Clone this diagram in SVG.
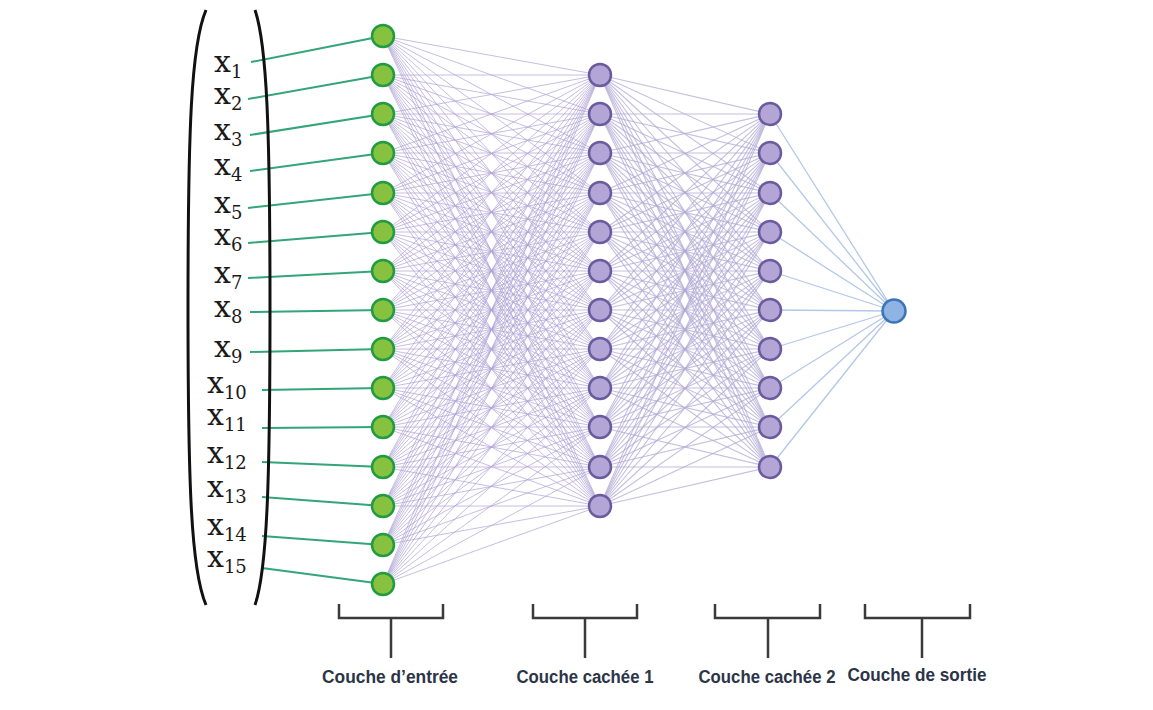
<svg xmlns="http://www.w3.org/2000/svg" width="1153" height="710" viewBox="0 0 1153 710">
<style>
.e1{fill:none;stroke:#aea3d6;stroke-width:1;stroke-opacity:0.7}
.e2{fill:none;stroke:#b2aad4;stroke-width:1.1;stroke-opacity:0.75}
.e3{fill:none;stroke:#b3c8e8;stroke-width:1.3}
.lab{fill:none;stroke:#33a57a;stroke-width:2}
.in{fill:#86c240;stroke:#1f9c3f;stroke-width:2.5}
.hid{fill:#b3a6d6;stroke:#6a5a9e;stroke-width:2.5}
.out{fill:#8fb3e2;stroke:#3d74b8;stroke-width:2.5}
.par{fill:none;stroke:#111;stroke-width:3}
.br{fill:none;stroke:#3a3a3a;stroke-width:2.5}
.x{font-family:"DejaVu Serif","Liberation Serif",serif;font-size:30px;fill:#1a1a1a}
.s{font-size:18px}
.cap{font-family:"Liberation Sans",Arial,sans-serif;font-weight:bold;font-size:18px;fill:#2c3447;text-anchor:middle}
</style>
<rect width="1153" height="710" fill="#ffffff"/>
<g id="connectors">
<g id="input-hidden1">
<path class="e1" d="M600 75L383 36M600 75L383 75M600 75L383 114M600 75L383 153M600 75L383 193M600 75L383 232M600 75L383 271M600 75L383 310M600 75L383 349M600 75L383 388M600 75L383 427M600 75L383 467M600 75L383 506M600 75L383 545M600 75L383 584"/>
<path class="e1" d="M600 114L383 36M600 114L383 75M600 114L383 114M600 114L383 153M600 114L383 193M600 114L383 232M600 114L383 271M600 114L383 310M600 114L383 349M600 114L383 388M600 114L383 427M600 114L383 467M600 114L383 506M600 114L383 545M600 114L383 584"/>
<path class="e1" d="M600 153L383 36M600 153L383 75M600 153L383 114M600 153L383 153M600 153L383 193M600 153L383 232M600 153L383 271M600 153L383 310M600 153L383 349M600 153L383 388M600 153L383 427M600 153L383 467M600 153L383 506M600 153L383 545M600 153L383 584"/>
<path class="e1" d="M600 193L383 36M600 193L383 75M600 193L383 114M600 193L383 153M600 193L383 193M600 193L383 232M600 193L383 271M600 193L383 310M600 193L383 349M600 193L383 388M600 193L383 427M600 193L383 467M600 193L383 506M600 193L383 545M600 193L383 584"/>
<path class="e1" d="M600 232L383 36M600 232L383 75M600 232L383 114M600 232L383 153M600 232L383 193M600 232L383 232M600 232L383 271M600 232L383 310M600 232L383 349M600 232L383 388M600 232L383 427M600 232L383 467M600 232L383 506M600 232L383 545M600 232L383 584"/>
<path class="e1" d="M600 271L383 36M600 271L383 75M600 271L383 114M600 271L383 153M600 271L383 193M600 271L383 232M600 271L383 271M600 271L383 310M600 271L383 349M600 271L383 388M600 271L383 427M600 271L383 467M600 271L383 506M600 271L383 545M600 271L383 584"/>
<path class="e1" d="M600 310L383 36M600 310L383 75M600 310L383 114M600 310L383 153M600 310L383 193M600 310L383 232M600 310L383 271M600 310L383 310M600 310L383 349M600 310L383 388M600 310L383 427M600 310L383 467M600 310L383 506M600 310L383 545M600 310L383 584"/>
<path class="e1" d="M600 349L383 36M600 349L383 75M600 349L383 114M600 349L383 153M600 349L383 193M600 349L383 232M600 349L383 271M600 349L383 310M600 349L383 349M600 349L383 388M600 349L383 427M600 349L383 467M600 349L383 506M600 349L383 545M600 349L383 584"/>
<path class="e1" d="M600 388L383 36M600 388L383 75M600 388L383 114M600 388L383 153M600 388L383 193M600 388L383 232M600 388L383 271M600 388L383 310M600 388L383 349M600 388L383 388M600 388L383 427M600 388L383 467M600 388L383 506M600 388L383 545M600 388L383 584"/>
<path class="e1" d="M600 427L383 36M600 427L383 75M600 427L383 114M600 427L383 153M600 427L383 193M600 427L383 232M600 427L383 271M600 427L383 310M600 427L383 349M600 427L383 388M600 427L383 427M600 427L383 467M600 427L383 506M600 427L383 545M600 427L383 584"/>
<path class="e1" d="M600 467L383 36M600 467L383 75M600 467L383 114M600 467L383 153M600 467L383 193M600 467L383 232M600 467L383 271M600 467L383 310M600 467L383 349M600 467L383 388M600 467L383 427M600 467L383 467M600 467L383 506M600 467L383 545M600 467L383 584"/>
<path class="e1" d="M600 506L383 36M600 506L383 75M600 506L383 114M600 506L383 153M600 506L383 193M600 506L383 232M600 506L383 271M600 506L383 310M600 506L383 349M600 506L383 388M600 506L383 427M600 506L383 467M600 506L383 506M600 506L383 545M600 506L383 584"/>
</g>
<g id="hidden1-hidden2">
<path class="e2" d="M770 114L600 75M770 114L600 114M770 114L600 153M770 114L600 193M770 114L600 232M770 114L600 271M770 114L600 310M770 114L600 349M770 114L600 388M770 114L600 427M770 114L600 467M770 114L600 506"/>
<path class="e2" d="M770 153L600 75M770 153L600 114M770 153L600 153M770 153L600 193M770 153L600 232M770 153L600 271M770 153L600 310M770 153L600 349M770 153L600 388M770 153L600 427M770 153L600 467M770 153L600 506"/>
<path class="e2" d="M770 193L600 75M770 193L600 114M770 193L600 153M770 193L600 193M770 193L600 232M770 193L600 271M770 193L600 310M770 193L600 349M770 193L600 388M770 193L600 427M770 193L600 467M770 193L600 506"/>
<path class="e2" d="M770 232L600 75M770 232L600 114M770 232L600 153M770 232L600 193M770 232L600 232M770 232L600 271M770 232L600 310M770 232L600 349M770 232L600 388M770 232L600 427M770 232L600 467M770 232L600 506"/>
<path class="e2" d="M770 271L600 75M770 271L600 114M770 271L600 153M770 271L600 193M770 271L600 232M770 271L600 271M770 271L600 310M770 271L600 349M770 271L600 388M770 271L600 427M770 271L600 467M770 271L600 506"/>
<path class="e2" d="M770 310L600 75M770 310L600 114M770 310L600 153M770 310L600 193M770 310L600 232M770 310L600 271M770 310L600 310M770 310L600 349M770 310L600 388M770 310L600 427M770 310L600 467M770 310L600 506"/>
<path class="e2" d="M770 349L600 75M770 349L600 114M770 349L600 153M770 349L600 193M770 349L600 232M770 349L600 271M770 349L600 310M770 349L600 349M770 349L600 388M770 349L600 427M770 349L600 467M770 349L600 506"/>
<path class="e2" d="M770 388L600 75M770 388L600 114M770 388L600 153M770 388L600 193M770 388L600 232M770 388L600 271M770 388L600 310M770 388L600 349M770 388L600 388M770 388L600 427M770 388L600 467M770 388L600 506"/>
<path class="e2" d="M770 427L600 75M770 427L600 114M770 427L600 153M770 427L600 193M770 427L600 232M770 427L600 271M770 427L600 310M770 427L600 349M770 427L600 388M770 427L600 427M770 427L600 467M770 427L600 506"/>
<path class="e2" d="M770 467L600 75M770 467L600 114M770 467L600 153M770 467L600 193M770 467L600 232M770 467L600 271M770 467L600 310M770 467L600 349M770 467L600 388M770 467L600 427M770 467L600 467M770 467L600 506"/>
</g>
<g id="hidden2-output">
<path class="e3" d="M894 311L770 114M894 311L770 153M894 311L770 193M894 311L770 232M894 311L770 271M894 311L770 310M894 311L770 349M894 311L770 388M894 311L770 427M894 311L770 467"/>
</g>
<g id="label-links">
<path class="lab" d="M251 62L383 36M248 99L383 75M250 135L383 114M250 171L383 153M248 208L383 193M248 243L383 232M248 278L383 271M250 312L383 310M250 352L383 349M262 390L383 388M262 428L383 427M262 462L383 467M262 497L383 506M262 536L383 545M262 568L383 584"/>
</g>
</g>
<g id="vector">
<path class="par" d="M206 10C191 45 188 130 188 307C188 484 191 570 206 605"/>
<path class="par" d="M255 10C267 45 270 130 270 307C270 484 267 570 255 605"/>
<text class="x" x="214" y="72">x<tspan class="s" dy="6">1</tspan></text>
<text class="x" x="214" y="104">x<tspan class="s" dy="6">2</tspan></text>
<text class="x" x="214" y="140">x<tspan class="s" dy="6">3</tspan></text>
<text class="x" x="214" y="175">x<tspan class="s" dy="6">4</tspan></text>
<text class="x" x="214" y="213">x<tspan class="s" dy="6">5</tspan></text>
<text class="x" x="214" y="245">x<tspan class="s" dy="6">6</tspan></text>
<text class="x" x="214" y="283">x<tspan class="s" dy="6">7</tspan></text>
<text class="x" x="214" y="317">x<tspan class="s" dy="6">8</tspan></text>
<text class="x" x="214" y="357">x<tspan class="s" dy="6">9</tspan></text>
<text class="x" x="207" y="393">x<tspan class="s" dy="6">10</tspan></text>
<text class="x" x="207" y="425">x<tspan class="s" dy="6">11</tspan></text>
<text class="x" x="207" y="463">x<tspan class="s" dy="6">12</tspan></text>
<text class="x" x="207" y="497">x<tspan class="s" dy="6">13</tspan></text>
<text class="x" x="207" y="535">x<tspan class="s" dy="6">14</tspan></text>
<text class="x" x="207" y="567">x<tspan class="s" dy="6">15</tspan></text>
</g>
<g id="input-layer">
<circle class="in" cx="383" cy="36" r="11"/><circle class="in" cx="383" cy="75" r="11"/><circle class="in" cx="383" cy="114" r="11"/><circle class="in" cx="383" cy="153" r="11"/><circle class="in" cx="383" cy="193" r="11"/><circle class="in" cx="383" cy="232" r="11"/><circle class="in" cx="383" cy="271" r="11"/><circle class="in" cx="383" cy="310" r="11"/><circle class="in" cx="383" cy="349" r="11"/><circle class="in" cx="383" cy="388" r="11"/><circle class="in" cx="383" cy="427" r="11"/><circle class="in" cx="383" cy="467" r="11"/><circle class="in" cx="383" cy="506" r="11"/><circle class="in" cx="383" cy="545" r="11"/><circle class="in" cx="383" cy="584" r="11"/>
</g>
<g id="hidden-layer-1">
<circle class="hid" cx="600" cy="75" r="11"/><circle class="hid" cx="600" cy="114" r="11"/><circle class="hid" cx="600" cy="153" r="11"/><circle class="hid" cx="600" cy="193" r="11"/><circle class="hid" cx="600" cy="232" r="11"/><circle class="hid" cx="600" cy="271" r="11"/><circle class="hid" cx="600" cy="310" r="11"/><circle class="hid" cx="600" cy="349" r="11"/><circle class="hid" cx="600" cy="388" r="11"/><circle class="hid" cx="600" cy="427" r="11"/><circle class="hid" cx="600" cy="467" r="11"/><circle class="hid" cx="600" cy="506" r="11"/>
</g>
<g id="hidden-layer-2">
<circle class="hid" cx="770" cy="114" r="11"/><circle class="hid" cx="770" cy="153" r="11"/><circle class="hid" cx="770" cy="193" r="11"/><circle class="hid" cx="770" cy="232" r="11"/><circle class="hid" cx="770" cy="271" r="11"/><circle class="hid" cx="770" cy="310" r="11"/><circle class="hid" cx="770" cy="349" r="11"/><circle class="hid" cx="770" cy="388" r="11"/><circle class="hid" cx="770" cy="427" r="11"/><circle class="hid" cx="770" cy="467" r="11"/>
</g>
<g id="output-layer">
<circle class="out" cx="894" cy="311" r="11.5"/>
</g>
<g id="layer-labels">
<path class="br" d="M339 604V618H443V604M391 618V658"/>
<path class="br" d="M533 604V618H637V604M585 618V658"/>
<path class="br" d="M715 604V618H820V604M768 618V658"/>
<path class="br" d="M865 604V618H970V604M922 618V658"/>
<text class="cap" x="390" y="683" textLength="136" lengthAdjust="spacingAndGlyphs">Couche d’entrée</text>
<text class="cap" x="585" y="683" textLength="137" lengthAdjust="spacingAndGlyphs">Couche cachée 1</text>
<text class="cap" x="767" y="683" textLength="137" lengthAdjust="spacingAndGlyphs">Couche cachée 2</text>
<text class="cap" x="917" y="681" textLength="139" lengthAdjust="spacingAndGlyphs">Couche de sortie</text>
</g>
</svg>
